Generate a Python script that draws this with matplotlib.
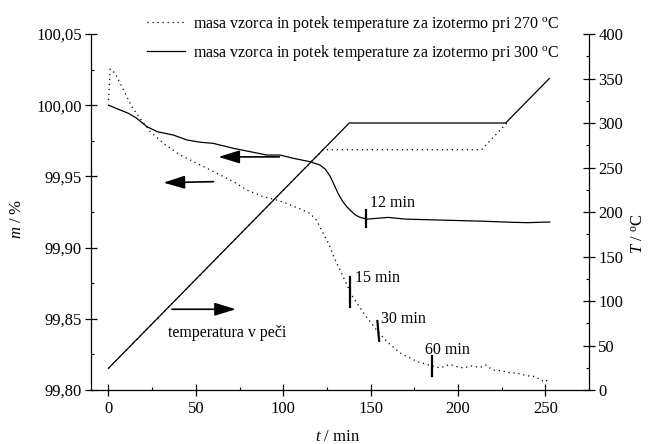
import numpy as np
import matplotlib
matplotlib.use("Agg")
import matplotlib.pyplot as plt
from matplotlib.ticker import MultipleLocator, FuncFormatter
from matplotlib.lines import Line2D

plt.rcParams['font.family'] = ['Liberation Serif', 'DejaVu Serif']
plt.rcParams['mathtext.fontset'] = 'custom'
plt.rcParams['mathtext.rm'] = 'Liberation Serif'
plt.rcParams['mathtext.it'] = 'Liberation Serif:italic'

# ---- data ----
t_m270 = [0, 1, 3.8, 8.6, 13.4, 18.1, 23.9, 31.5, 41, 50.6, 62, 71.5, 79.2, 88.7, 96, 102, 110,
          115.4, 119.2, 122, 125.9, 128.8, 134.5, 139.5, 146, 153.5, 159.3, 167, 176.5, 185,
          189.7, 195.4, 199, 203, 208, 212.5, 216, 220, 225, 229.7, 234, 239.4, 244, 249.7, 252.5]
m270 = [100.0036, 100.0254, 100.0224, 100.0107, 99.9989, 99.9908, 99.9814, 99.9732, 99.965,
        99.9592, 99.9522, 99.9463, 99.9404, 99.9357, 99.9335, 99.931, 99.927,
        99.924, 99.919, 99.912, 99.903, 99.894, 99.879, 99.866, 99.854, 99.842, 99.834,
        99.826, 99.820, 99.817, 99.8155, 99.818, 99.8165, 99.8155, 99.817, 99.8158, 99.8175,
        99.814, 99.8135, 99.812, 99.8118, 99.810, 99.8095, 99.8055, 99.8085]

t_m300 = [0, 5, 11.4, 16.2, 22, 27.9, 37.2, 44.9, 52.5, 60, 71.5, 83, 90.6, 98.2, 105.8,
          115.4, 121, 124, 126.9, 129, 131.4, 134, 136.4, 139, 141.2, 144, 146, 148,
          160, 170, 185, 200, 215, 230, 240, 252.5]
m300 = [100.0, 99.9975, 99.9943, 99.9908, 99.9849, 99.9814, 99.979, 99.9756, 99.974, 99.9732,
        99.9697, 99.9669, 99.965, 99.965, 99.9627, 99.9603, 99.958, 99.9552, 99.950,
        99.9445, 99.938, 99.9325, 99.9287, 99.9255, 99.923, 99.9212, 99.9206, 99.920,
        99.9212, 99.920, 99.9195, 99.919, 99.9185, 99.9178, 99.9175, 99.918]

t_T270 = [0, 122.8, 213.5, 228]
T270 = [24.4, 270, 270, 300]
t_T300 = [0, 137.8, 227.3, 252.3]
T300 = [24.4, 300, 300, 350]

mark_times = [147.5, 138.3, 153.9, 185.1]
mark_curve = ['300', '270', '270', '270']
mark_labels = ['12 min', '15 min', '30 min', '60 min']

legend_labels = ['masa vzorca in potek temperature za izotermo pri 270 $^{\\mathrm{o}}$C',
                 'masa vzorca in potek temperature za izotermo pri 300 $^{\\mathrm{o}}$C']

# ---- figure ----
fig = plt.figure(figsize=(6.49, 4.44), dpi=100)
ax = fig.add_axes([91/649, 1-390/444, 498/649, 356/444])
ax2 = ax.twinx()

dotted = (0, (1, 3))
ax.plot(t_m270, m270, color='black', lw=0.9, linestyle=dotted)
ax.plot(t_m300, m300, color='black', lw=0.9)
ax2.plot(t_T300, T300, color='black', lw=0.9)
ax2.plot(t_T270, T270, color='black', lw=0.9, linestyle=dotted)

ax.set_xlim(-10, 275)
ax.set_ylim(99.80, 100.05)
ax2.set_ylim(0, 400)

# time markers
half = [0.006, 0.0105, 0.007, 0.007]
label_off = [(2, 0.011), (3, 0.0095), (2, 0.0085), (-4, 0.011)]
for tm, cv, lab, h, (dx, dy) in zip(mark_times, mark_curve, mark_labels, half, label_off):
    tt, mm = (t_m300, m300) if cv == '300' else (t_m270, m270)
    yc = np.interp(tm, tt, mm)
    ax.plot([tm, tm + (1 if lab == '30 min' else 0)], [yc + h, yc - h], color='black', lw=1.6)
    ax.text(tm + dx, yc + dy, lab, fontsize=11.5, ha='left', va='center')

# arrows
arr = dict(arrowstyle='-|>,head_length=1.3,head_width=0.4', color='black', lw=1.2,
           shrinkA=0, shrinkB=0)
ax.annotate('', xy=(62.9, 99.9637), xytext=(97.8, 99.9637), arrowprops=arr)
ax.annotate('', xy=(31.5, 99.9456), xytext=(60.1, 99.9463), arrowprops=arr)
ax.annotate('', xy=(72.9, 99.8567), xytext=(36.3, 99.8567), arrowprops=arr)
ax.text(34.3, 99.8398, 'temperatura v peči', fontsize=11.5, ha='left', va='center')

# ticks
fmt = FuncFormatter(lambda v, p: f'{v:.2f}'.replace('.', ','))
ax.yaxis.set_major_locator(MultipleLocator(0.05))
ax.yaxis.set_minor_locator(MultipleLocator(0.025))
ax.yaxis.set_major_formatter(fmt)
ax.xaxis.set_major_locator(MultipleLocator(50))
ax.xaxis.set_minor_locator(MultipleLocator(25))
ax2.yaxis.set_major_locator(MultipleLocator(50))
ax2.yaxis.set_minor_locator(MultipleLocator(25))

for a in (ax, ax2):
    a.tick_params(which='major', direction='inout', length=8.5, width=0.9, labelsize=12, pad=2.5)
    a.tick_params(which='minor', direction='in', length=2.5, width=0.8)
ax.tick_params(axis='x', which='major', pad=4)

for s in ['top', 'right']:
    ax.spines[s].set_visible(False)
for s in ['top', 'left', 'bottom']:
    ax2.spines[s].set_visible(False)
for a in (ax, ax2):
    for s in a.spines.values():
        s.set_linewidth(0.9)

ax.set_ylabel('$m$ / %', fontsize=12, va='center', ha='center')
ax.yaxis.set_label_coords(-0.148, 0.48)
ax2.set_ylabel('$T$ / $^{\\mathrm{o}}$C', fontsize=12, rotation=90, va='center', ha='center')
ax2.yaxis.set_label_coords(1.1, 0.44)
ax.set_xlabel('$t$ / min', fontsize=12, va='center', ha='center')
ax.xaxis.set_label_coords(0.496, -0.132)

handles = [Line2D([], [], color='black', lw=0.9, linestyle=dotted),
           Line2D([], [], color='black', lw=0.9)]
fig.legend(handles, legend_labels, loc='upper left', bbox_to_anchor=(147/649, 1-14/444),
           bbox_transform=fig.transFigure, frameon=False, fontsize=11.5,
           handlelength=2.4, handletextpad=0.5, borderpad=0, borderaxespad=0,
           labelspacing=0.55)

fig.savefig('out.png', dpi=100)
